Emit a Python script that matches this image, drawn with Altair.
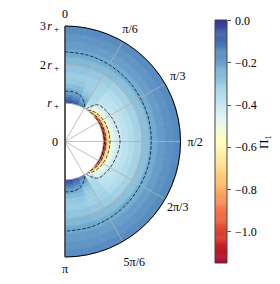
import math
import altair as alt
import pandas as pd

PI = math.pi

# ---------------- data ----------------
# angular bin edges (degrees, 0 = top, 180 = bottom)
theta_edges = [0, 10, 20, 30, 40, 50, 60, 70, 80, 90, 100, 110, 120, 130, 140, 150, 160, 170, 180]
# radial bin edges (units of r_+)
r_edges = [1.0, 1.04, 1.08, 1.12, 1.17, 1.23, 1.3, 1.4, 1.5, 1.65, 1.8, 2.0, 2.2, 2.4, 2.6, 2.8, 3.0]

# Pi_1 values, one row per angular bin, one column per radial bin
pi1 = [
    [-0.02, -0.05, -0.08, -0.11, -0.15, -0.19, -0.23, -0.27, -0.30, -0.31, -0.29, -0.26, -0.22, -0.195, -0.18, -0.165],
    [-0.05, -0.08, -0.11, -0.14, -0.17, -0.20, -0.24, -0.27, -0.30, -0.31, -0.29, -0.26, -0.22, -0.195, -0.18, -0.165],
    [-0.12, -0.15, -0.18, -0.20, -0.23, -0.26, -0.29, -0.31, -0.32, -0.32, -0.30, -0.265, -0.225, -0.20, -0.18, -0.165],
    [-0.50, -0.45, -0.41, -0.38, -0.36, -0.35, -0.345, -0.345, -0.34, -0.33, -0.31, -0.27, -0.228, -0.20, -0.18, -0.165],
    [-0.84, -0.70, -0.60, -0.53, -0.48, -0.42, -0.39, -0.38, -0.37, -0.355, -0.325, -0.275, -0.23, -0.20, -0.18, -0.165],
    [-1.00, -0.83, -0.68, -0.58, -0.51, -0.45, -0.41, -0.395, -0.38, -0.36, -0.33, -0.28, -0.23, -0.20, -0.178, -0.163],
    [-1.07, -0.88, -0.72, -0.61, -0.53, -0.46, -0.42, -0.40, -0.385, -0.36, -0.33, -0.28, -0.228, -0.198, -0.176, -0.162],
    [-1.10, -0.92, -0.74, -0.63, -0.55, -0.47, -0.43, -0.405, -0.385, -0.36, -0.33, -0.278, -0.225, -0.195, -0.175, -0.16],
    [-1.12, -0.94, -0.76, -0.64, -0.56, -0.475, -0.435, -0.41, -0.385, -0.36, -0.33, -0.275, -0.222, -0.193, -0.173, -0.16],
    [-1.12, -0.94, -0.76, -0.64, -0.56, -0.475, -0.435, -0.41, -0.385, -0.36, -0.33, -0.275, -0.222, -0.193, -0.173, -0.16],
    [-1.10, -0.92, -0.74, -0.63, -0.55, -0.47, -0.43, -0.405, -0.385, -0.36, -0.33, -0.278, -0.225, -0.195, -0.175, -0.16],
    [-1.07, -0.88, -0.72, -0.61, -0.53, -0.46, -0.42, -0.40, -0.385, -0.36, -0.33, -0.28, -0.228, -0.198, -0.176, -0.162],
    [-1.00, -0.83, -0.68, -0.58, -0.51, -0.45, -0.41, -0.395, -0.38, -0.36, -0.33, -0.28, -0.23, -0.20, -0.178, -0.163],
    [-0.84, -0.70, -0.60, -0.53, -0.48, -0.42, -0.39, -0.38, -0.37, -0.355, -0.325, -0.275, -0.23, -0.20, -0.18, -0.165],
    [-0.50, -0.45, -0.41, -0.38, -0.36, -0.35, -0.345, -0.345, -0.34, -0.33, -0.31, -0.27, -0.228, -0.20, -0.18, -0.165],
    [-0.12, -0.15, -0.18, -0.20, -0.23, -0.26, -0.29, -0.31, -0.32, -0.32, -0.30, -0.265, -0.225, -0.20, -0.18, -0.165],
    [-0.05, -0.08, -0.11, -0.14, -0.17, -0.20, -0.24, -0.27, -0.30, -0.31, -0.29, -0.26, -0.22, -0.195, -0.18, -0.165],
    [-0.02, -0.05, -0.08, -0.11, -0.15, -0.19, -0.23, -0.27, -0.30, -0.31, -0.29, -0.26, -0.22, -0.195, -0.18, -0.165],
]

# dashed contour lines: (angle in degrees, radius in r_+)
contour_outer = [(0, 2.33), (15, 2.32), (30, 2.30), (45, 2.28), (60, 2.26), (75, 2.25), (90, 2.24),
                 (105, 2.25), (120, 2.26), (135, 2.28), (150, 2.30), (165, 2.32), (180, 2.33)]
contour_cap_n = [(0, 1.31), (8, 1.31), (14, 1.29), (20, 1.24), (25, 1.15), (29, 1.06), (31, 1.0)]
contour_cap_s = [(180, 1.31), (172, 1.31), (166, 1.29), (160, 1.24), (155, 1.15), (151, 1.06), (149, 1.0)]
contour_m04 = [(33, 1.0), (36, 1.12), (42, 1.28), (55, 1.34), (70, 1.38), (90, 1.43),
               (110, 1.38), (125, 1.34), (138, 1.28), (144, 1.12), (147, 1.0)]
contour_m06 = [(36, 1.0), (40, 1.05), (48, 1.10), (60, 1.14), (75, 1.16), (90, 1.17),
               (105, 1.16), (120, 1.14), (132, 1.10), (140, 1.05), (144, 1.0)]
contour_m08 = [(41, 1.0), (50, 1.04), (65, 1.06), (90, 1.065), (115, 1.06), (130, 1.04), (139, 1.0)]
contour_m10 = [(52, 1.0), (65, 1.02), (90, 1.025), (115, 1.02), (128, 1.0)]

# tick labels
theta_tick_deg = [0, 30, 60, 90, 120, 150, 180]
theta_tick_labels = ["0", "π/6", "π/3", "π/2", "2π/3", "5π/6", "π"]
theta_label_r = [3.30, 3.38, 3.38, 3.38, 3.38, 3.60, 3.30]
r_tick_values = [0, 1, 2, 3]
r_tick_coef = ["0", "", "2", "3"]
r_tick_sym = ["", "r", "r", "r"]
r_tick_sub = ["", "+", "+", "+"]
grid_r = [1, 2]
spine_r = [3]
cbar_ticks = [-1.0, -0.8, -0.6, -0.4, -0.2, 0.0]

# ---------------- tables ----------------
cells = []
for i in range(len(theta_edges) - 1):
    for j in range(len(r_edges) - 1):
        cells.append({
            "t1": theta_edges[i] * PI / 180, "t2": theta_edges[i + 1] * PI / 180,
            "r1": r_edges[j], "r2": r_edges[j + 1], "v": pi1[i][j],
        })
cells_df = pd.DataFrame(cells)

crows = []
for name, pts in [("outer", contour_outer), ("capn", contour_cap_n), ("caps", contour_cap_s),
                  ("m04", contour_m04), ("m06", contour_m06), ("m08", contour_m08), ("m10", contour_m10)]:
    for k, (a, r) in enumerate(pts):
        crows.append({"seg": name, "k": k, "a": a, "r": r})
cont_df = pd.DataFrame(crows)

spokes_df = pd.DataFrame({"a": theta_tick_deg})
tlab_df = pd.DataFrame({"a": theta_tick_deg, "lab": theta_tick_labels, "R": theta_label_r})
rlab_df = pd.DataFrame({"r": r_tick_values, "coef": r_tick_coef, "sym": r_tick_sym, "sub": r_tick_sub})
grid_df = pd.DataFrame({"r": grid_r})
spine_df = pd.DataFrame({"r": spine_r})

# ---------------- scales ----------------
W, H = 162, 243
RPX = 38.5  # pixels per r_+
xs = alt.Scale(domain=[0, W / RPX], range=[0, W], nice=False, zero=False)
ys = alt.Scale(domain=[-H / 2 / RPX, H / 2 / RPX], range=[H, 0], nice=False, zero=False)
ts = alt.Scale(domain=[0, PI], range=[0, PI])
rs = alt.Scale(type="linear", domain=[0, 3], range=[0, 3 * RPX], zero=True, nice=False)
cstops = [-1.15, -1.035, -0.92, -0.805, -0.69, -0.575, -0.46, -0.345, -0.23, -0.115, 0.0]
ccols = ["#a50026", "#d73027", "#f46d43", "#fdae61", "#fee090", "#ffffbf",
         "#e0f3f8", "#abd9e9", "#74add1", "#4575b4", "#313695"]
cs = alt.Scale(domain=cstops, range=ccols, interpolate="rgb", clamp=True)

FONT = "Liberation Serif"
CENTER = {"c0": "0", "tpi": "PI"}
cx = alt.X("c0:Q", scale=xs, axis=None)
cy = alt.Y("c0:Q", scale=ys, axis=None)

heat = alt.Chart(cells_df).transform_calculate(**CENTER).mark_arc(strokeWidth=0.6).encode(
    x=cx, y=cy,
    theta=alt.Theta("t1:Q", scale=ts), theta2="t2:Q",
    radius=alt.Radius("r1:Q", scale=rs), radius2="r2:Q",
    color=alt.Color("v:Q", scale=cs, legend=None),
    stroke=alt.Stroke("v:Q", scale=cs, legend=None),
)

grid = alt.Chart(grid_df).transform_calculate(**CENTER).mark_arc(
    fillOpacity=0, stroke="#b0b0b0", strokeWidth=0.8
).encode(
    x=cx, y=cy,
    theta=alt.Theta("c0:Q", scale=ts), theta2="tpi:Q",
    radius=alt.Radius("r:Q", scale=rs),
)

spokes = alt.Chart(spokes_df).transform_calculate(
    c0="0", x2="3*sin(datum.a*PI/180)", y2="3*cos(datum.a*PI/180)"
).mark_rule(color="#b0b0b0", strokeWidth=0.8).encode(
    x=cx, y=cy, x2="x2:Q", y2="y2:Q"
)

contours = alt.Chart(cont_df).transform_calculate(
    x="datum.r*sin(datum.a*PI/180)", y="datum.r*cos(datum.a*PI/180)"
).mark_line(color="black", strokeWidth=0.7, strokeDash=[3.5, 1.6], interpolate="catmull-rom").encode(
    x=alt.X("x:Q", scale=xs, axis=None),
    y=alt.Y("y:Q", scale=ys, axis=None),
    detail="seg:N", order="k:Q",
)

spine = alt.Chart(spine_df).transform_calculate(**CENTER).mark_arc(
    fillOpacity=0, stroke="black", strokeWidth=1.0
).encode(
    x=cx, y=cy,
    theta=alt.Theta("c0:Q", scale=ts), theta2="tpi:Q",
    radius=alt.Radius("r:Q", scale=rs),
)
edge = alt.Chart(spine_df).transform_calculate(c0="0", rn="-datum.r").mark_rule(
    color="#555", strokeWidth=1.0
).encode(x=cx, y=alt.Y("r:Q", scale=ys, axis=None), y2="rn:Q")

tlabels = alt.Chart(tlab_df).transform_calculate(
    x="datum.R*sin(datum.a*PI/180)", y="datum.R*cos(datum.a*PI/180)"
).mark_text(font=FONT, fontSize=12, color="black", align="center", baseline="middle").encode(
    x=alt.X("x:Q", scale=xs, axis=None),
    y=alt.Y("y:Q", scale=ys, axis=None),
    text="lab:N",
)

def rtext(field, dx, dy=0, size=12, style="normal"):
    return alt.Chart(rlab_df).transform_calculate(c0="0").mark_text(
        font=FONT, fontSize=size, fontStyle=style, color="black",
        align="right", baseline="middle", dx=dx, dy=dy
    ).encode(x=cx, y=alt.Y("r:Q", scale=ys, axis=None), text=f"{field}:N")

rl_coef = rtext("coef", -19).transform_filter("datum.r > 0")
rl_coef0 = rtext("coef", -7).transform_filter("datum.r == 0")
rl_sym = rtext("sym", -13, style="italic")
rl_sub = rtext("sub", -6, dy=3, size=9)

polar = alt.layer(heat, grid, spokes, contours, spine, edge, tlabels,
                  rl_coef, rl_coef0, rl_sym, rl_sub)

cbar_y = alt.Scale(domain=[-1.15, 0.0], nice=False, zero=False)
cbar = alt.Chart(alt.sequence(-1.15, 0.0, 0.005, as_="v")).transform_calculate(
    v2="datum.v + 0.007"
).mark_rect(clip=True).encode(
    x=alt.value(W - 12), x2=alt.value(W),
    y=alt.Y("v:Q", scale=cbar_y, axis=alt.Axis(
        orient="right", values=cbar_ticks, format=".1f", domain=False, grid=False,
        tickSize=3.5, tickColor="#222", tickWidth=0.8, labelPadding=4,
        labelFont=FONT, labelFontSize=12, labelColor="black",
        title="Π₁", titleFont=FONT, titleFontSize=13, titleFontWeight="normal",
        titleColor="black", titleAngle=270, titleX=36, titleY=H / 2,
        titleAlign="center", titleBaseline="middle")),
    y2="v2:Q",
    color=alt.Color("v:Q", scale=cs, legend=None),
)

cbar_frame = alt.Chart(spine_df).mark_rect(
    fillOpacity=0, stroke="#444", strokeWidth=1
).encode(x=alt.value(W - 12), x2=alt.value(W), y=alt.value(0), y2=alt.value(H))

chart = alt.layer(polar, cbar, cbar_frame).resolve_scale(y="independent").properties(
    width=W, height=H,
    autosize=alt.AutoSizeParams(type="none"),
    padding={"left": 57, "top": 12, "right": 45, "bottom": 13},
).configure_view(stroke=None)

chart.save("out.html", embed_options={"renderer": "svg", "actions": False})
